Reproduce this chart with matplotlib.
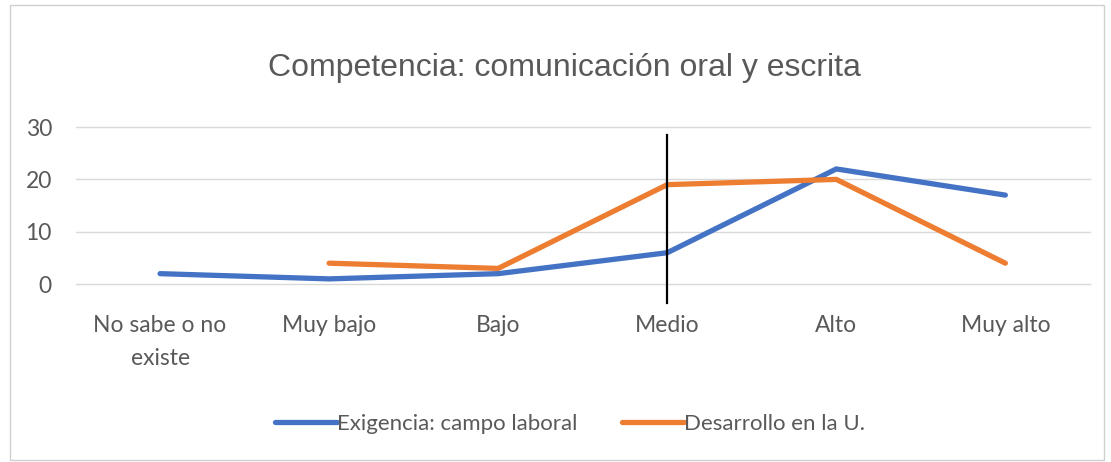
import matplotlib.pyplot as plt
import numpy as np
from matplotlib.patches import Rectangle

categories = ["No sabe o no\nexiste", "Muy bajo", "Bajo", "Medio", "Alto", "Muy alto"]
exigencia = [2, 1, 2, 6, 22, 17]
desarrollo = [np.nan, 4, 3, 19, 20, 4]
yticks = [0, 10, 20, 30]
marker_category = 3          # index of "Medio"
marker_span = (-3.6, 28.5)   # extent of the black vertical line in data units

title = "Competencia: comunicación oral y escrita"
labels = ["Exigencia: campo laboral", "Desarrollo en la U."]
blue = "#4472C4"
orange = "#ED7D31"
grey = "#595959"

fig = plt.figure(figsize=(11.11, 4.62), dpi=100)
fig.patches.append(Rectangle((0.009, 0.005), 0.985, 0.985, transform=fig.transFigure,
                             fill=False, edgecolor="#d0d0d0", linewidth=1))
ax = fig.add_axes([0.068, 0.385, 0.913, 0.34])

x = np.arange(len(categories))
ax.plot(x, exigencia, color=blue, linewidth=3.8, solid_capstyle="round", label=labels[0])
ax.plot(x, desarrollo, color=orange, linewidth=3.8, solid_capstyle="round", label=labels[1])
ax.plot([x[marker_category]] * 2, marker_span, color="black", linewidth=1.6, clip_on=False)

ax.set_xlim(-0.5, len(categories) - 0.5)
ax.set_ylim(0, 30)
ax.set_yticks(yticks)
ax.set_xticks(x)
ax.set_xticklabels(categories, linespacing=1.7)
ax.grid(axis="y", color="#d9d9d9", linewidth=1)
for gl in ax.get_ygridlines():
    gl.set_clip_on(False)
ax.set_axisbelow(True)
for s in ax.spines.values():
    s.set_visible(False)
ax.tick_params(length=0, labelsize=16.5, labelcolor=grey)
ax.tick_params(axis="x", pad=22)
ax.tick_params(axis="y", pad=17)
for t in ax.get_xticklabels() + ax.get_yticklabels():
    t.set_fontfamily("Lato")

fig.text(0.508, 0.853, title, ha="center", va="center", fontsize=23, color=grey,
         family="Liberation Sans")

leg = fig.legend(loc="center", bbox_to_anchor=(0.513, 0.083), ncol=2, frameon=False,
                 handlelength=2.8, handletextpad=0.0, columnspacing=2.0,
                 prop={"family": "Lato", "size": 16})
for t in leg.get_texts():
    t.set_color(grey)

fig.savefig("out.png", dpi=100)
